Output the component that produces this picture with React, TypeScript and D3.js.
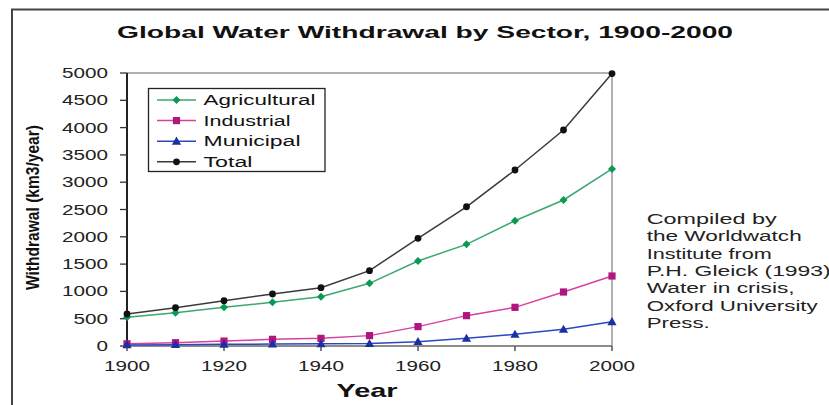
import React from "react";
import * as d3 from "d3";

const years = [1900, 1910, 1920, 1930, 1940, 1950, 1960, 1970, 1980, 1990, 2000];
const agricultural = [525, 610, 708, 800, 903, 1148, 1557, 1862, 2295, 2674, 3242];
const industrial = [40, 60, 90, 122, 140, 190, 355, 556, 708, 989, 1282];
const municipal = [20, 25, 30, 35, 40, 45, 80, 140, 213, 305, 445];
const total = [586, 702, 830, 952, 1068, 1380, 1972, 2550, 3223, 3956, 4990];
const seriesNames = ["Agricultural", "Industrial", "Municipal", "Total"];
const xTickValues = [1900, 1920, 1940, 1960, 1980, 2000];
const yTickValues = [0, 500, 1000, 1500, 2000, 2500, 3000, 3500, 4000, 4500, 5000];
const noteLines = [
  "Compiled by",
  "the Worldwatch",
  "Institute from",
  "P.H. Gleick (1993)",
  "Water in crisis,",
  "Oxford University",
  "Press.",
];
const noteWidths = [130, 155, 125, 184, 148, 171, 63];
const legendWidths = [112, 87, 97, 49];

const W = 829;
const H = 405;
const left = 127;
const right = 612;
const top = 73;
const bottom = 346;

const styles = [
  { line: "#3aa86f", mark: "#0b9a52", shape: "diamond" },
  { line: "#d8409f", mark: "#b0167f", shape: "square" },
  { line: "#2a48c0", mark: "#1a2fa0", shape: "triangle" },
  { line: "#3a3a3a", mark: "#111111", shape: "circle" },
];

const font = "Arial, 'Liberation Sans', Helvetica, sans-serif";

function Marker({ x, y, shape, color }: { x: number; y: number; shape: string; color: string }) {
  if (shape === "diamond") {
    const s = 4;
    return <path d={`M${x},${y - s}L${x + s},${y}L${x},${y + s}L${x - s},${y}Z`} fill={color} />;
  }
  if (shape === "square") {
    const s = 3.6;
    return <rect x={x - s} y={y - s} width={s * 2} height={s * 2} fill={color} />;
  }
  if (shape === "triangle") {
    const s = 4.6;
    return <path d={`M${x},${y - s}L${x + s},${y + s * 0.75}L${x - s},${y + s * 0.75}Z`} fill={color} />;
  }
  return <circle cx={x} cy={y} r={3.4} fill={color} />;
}

export default function App() {
  const x = d3.scaleLinear().domain([1900, 2000]).range([left, right]);
  const y = d3.scaleLinear().domain([0, 5000]).range([bottom, top]);
  const data = [agricultural, industrial, municipal, total];
  const line = d3
    .line<number>()
    .x((_, i) => x(years[i]))
    .y((d) => y(d));

  return (
    <svg
      width={W}
      height={H}
      style={{ position: "absolute", left: 0, top: 0, background: "#fff" }}
      fontFamily={font}
    >
      <rect x={0} y={0} width={W} height={H} fill="#fff" />
      {/* outer frame */}
      <path d={`M12,${H}V9.5H${W}`} fill="none" stroke="#444" strokeWidth={2} />

      {/* title */}
      <text
        x={425}
        y={38}
        textAnchor="middle"
        fontSize={17}
        fontWeight="bold"
        fill="#111"
        textLength={616}
        lengthAdjust="spacingAndGlyphs"
      >
        Global Water Withdrawal by Sector, 1900-2000
      </text>

      {/* plot frame top/right */}
      <path d={`M${left},${top}H${right}V${bottom}`} fill="none" stroke="#999" strokeWidth={1.5} />
      {/* x axis */}
      <line x1={left} x2={right} y1={bottom} y2={bottom} stroke="#666" strokeWidth={1.5} />
      {xTickValues.map((t) => (
        <g key={t}>
          <line x1={x(t)} x2={x(t)} y1={bottom} y2={bottom + 5} stroke="#555" strokeWidth={1.5} />
          <text
            x={x(t)}
            y={370.5}
            textAnchor="middle"
            fontSize={14}
            fill="#222"
            textLength={46}
            lengthAdjust="spacingAndGlyphs"
          >
            {t}
          </text>
        </g>
      ))}
      {/* y axis */}
      <line x1={left} x2={left} y1={top} y2={bottom} stroke="#222" strokeWidth={2} />
      {yTickValues.map((t) => (
        <g key={t}>
          <line x1={left - 7} x2={left} y1={y(t)} y2={y(t)} stroke="#333" strokeWidth={1.3} />
          <text
            x={108}
            y={y(t) + 5}
            textAnchor="end"
            fontSize={14}
            fill="#222"
            textLength={String(t).length * 11.5}
            lengthAdjust="spacingAndGlyphs"
          >
            {t}
          </text>
        </g>
      ))}

      {/* axis titles */}
      <text
        transform={`translate(39,207.5) rotate(-90)`}
        textAnchor="middle"
        fontSize={19}
        fontWeight="bold"
        fill="#111"
        textLength={165}
        lengthAdjust="spacingAndGlyphs"
      >
        Withdrawal (km3/year)
      </text>
      <text
        x={367}
        y={397}
        textAnchor="middle"
        fontSize={19}
        fontWeight="bold"
        fill="#111"
        textLength={61}
        lengthAdjust="spacingAndGlyphs"
      >
        Year
      </text>

      {/* series */}
      {data.map((vals, si) => (
        <g key={si}>
          <path d={line(vals) || ""} fill="none" stroke={styles[si].line} strokeWidth={1.5} />
          {vals.map((v, i) => (
            <Marker key={i} x={x(years[i])} y={y(v)} shape={styles[si].shape} color={styles[si].mark} />
          ))}
        </g>
      ))}

      {/* legend */}
      <rect x={148.5} y={88.5} width={176.5} height={83} fill="#fff" stroke="#222" strokeWidth={1.3} />
      {seriesNames.map((n, i) => {
        const ly = 100 + i * 20.6;
        return (
          <g key={n}>
            <line x1={157} x2={196} y1={ly} y2={ly} stroke={styles[i].line} strokeWidth={1.5} />
            <Marker x={176.5} y={ly} shape={styles[i].shape} color={styles[i].mark} />
            <text
              x={203.5}
              y={ly + 5}
              fontSize={14}
              fill="#111"
              textLength={legendWidths[i]}
              lengthAdjust="spacingAndGlyphs"
            >
              {n}
            </text>
          </g>
        );
      })}

      {/* note */}
      {noteLines.map((t, i) => (
        <text
          key={i}
          x={646.7}
          y={224 + i * 17.35}
          fontSize={14}
          fill="#222"
          textLength={noteWidths[i]}
          lengthAdjust="spacingAndGlyphs"
        >
          {t}
        </text>
      ))}
    </svg>
  );
}
